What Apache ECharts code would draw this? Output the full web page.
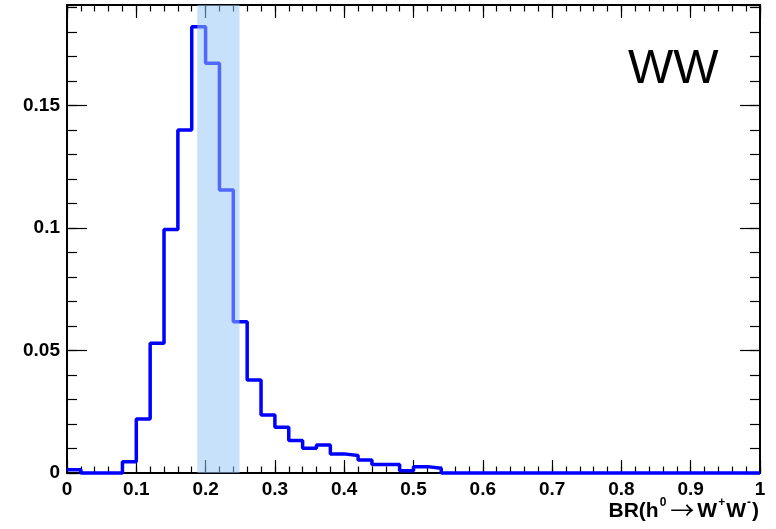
<!DOCTYPE html>
<html>
<head>
<meta charset="utf-8">
<script src="https://cdn.jsdelivr.net/npm/echarts@6/dist/echarts.min.js"></script>
<style>
html,body{margin:0;padding:0;background:#fff;}
#c{width:776px;height:529px;}
</style>
</head>
<body>
<div id="c"></div>
<script>
// Histogram: BR(h0 -> W+W-), 50 bins of width 0.02 from 0 to 1
var binLow = 0;
var binWidth = 0.02;
var binValues = [
  0.0013, 0, 0, 0, 0.0046, 0.0220, 0.0530, 0.0994, 0.1400, 0.1821,
  0.1672, 0.1155, 0.0617, 0.0380, 0.0237, 0.0187, 0.0133, 0.0101, 0.0114, 0.0078,
  0.0071, 0.0053, 0.0035, 0.0035, 0.0009, 0.0026, 0.0019, 0, 0, 0,
  0, 0, 0, 0, 0, 0, 0, 0, 0, 0,
  0, 0, 0, 0, 0, 0, 0, 0, 0, 0
];
var bandRange = [0.188, 0.249];
var xRange = [0, 1];
var yRange = [0, 0.191];
var xMajor = 0.1, xMinor = 0.02;
var yMajor = 0.05, yMinor = 0.01;
var panelLabel = 'WW';

var points = [];
for (var i = 0; i < binValues.length; i++) {
  points.push([+(binLow + i * binWidth).toFixed(4), binValues[i]]);
}
points.push([+(binLow + binValues.length * binWidth).toFixed(4), binValues[binValues.length - 1]]);

var FONT = '"Liberation Sans", Arial, Helvetica, sans-serif';
var labelStyle = {fontFamily: FONT, fontWeight: 'bold', fontSize: 19, color: '#000'};

function xAx(pos, interval, tickLen, showLabel, showLine) {
  return {
    type: 'value', position: pos, min: xRange[0], max: xRange[1], interval: interval,
    axisLine: {show: showLine, onZero: false, lineStyle: {color: '#000', width: 2}},
    axisTick: {show: true, inside: true, length: tickLen, lineStyle: {color: '#000', width: 1.2}},
    axisLabel: Object.assign({show: showLabel, margin: 7, formatter: function (v) { return String(+v.toFixed(2)); }}, labelStyle),
    splitLine: {show: false}
  };
}
function yAx(pos, interval, tickLen, showLabel, showLine) {
  return {
    type: 'value', position: pos, min: yRange[0], max: yRange[1], interval: interval,
    axisLine: {show: showLine, onZero: false, lineStyle: {color: '#000', width: 2}},
    axisTick: {show: true, inside: true, length: tickLen, lineStyle: {color: '#000', width: 1.2}},
    axisLabel: Object.assign({show: showLabel, margin: 7, showMaxLabel: false, formatter: function (v) { return String(+v.toFixed(3)); }}, labelStyle),
    splitLine: {show: false}
  };
}

var chart = echarts.init(document.getElementById('c'), null, {renderer: 'canvas'});
chart.setOption({
  backgroundColor: '#fff',
  animation: false,
  grid: {left: 67, right: 16, top: 5, bottom: 56, containLabel: false, outerBoundsMode: 'none'},
  xAxis: [
    xAx('bottom', xMajor, 13, true, true),
    xAx('bottom', xMinor, 6.5, false, false),
    xAx('top', xMajor, 13, false, true),
    xAx('top', xMinor, 6.5, false, false)
  ],
  yAxis: [
    yAx('left', yMajor, 20, true, true),
    yAx('left', yMinor, 10, false, false),
    yAx('right', yMajor, 20, false, true),
    yAx('right', yMinor, 10, false, false)
  ],
  series: [
    {
      type: 'line', name: 'hist', xAxisIndex: 0, yAxisIndex: 0,
      data: points, step: 'end', symbol: 'none', clip: false, z: 2,
      lineStyle: {color: '#0000ff', width: 3.5}
    },
    {
      type: 'line', name: 'band', xAxisIndex: 0, yAxisIndex: 0,
      data: [], z: 5, symbol: 'none',
      markArea: {
        silent: true, z: 5,
        itemStyle: {color: 'rgba(151,198,245,0.53)', borderWidth: 0},
        data: [[{xAxis: bandRange[0]}, {xAxis: bandRange[1]}]]
      }
    }
  ],
  graphic: [
    {
      type: 'text', left: 628, top: 46, z: 10,
      style: {text: panelLabel, fontFamily: FONT, fontSize: 48, fill: '#000'}
    },
    {
      type: 'text', right: 17, top: 496, z: 10,
      style: {
        text: '{b|BR(h}{s|0}{a|\u2192}{b|W}{s|+}{b|W}{s|-}{b|)}',
        fontFamily: FONT,
        rich: {
          b: {fontFamily: FONT, fontWeight: 'bold', fontSize: 21, fill: '#000', lineHeight: 26, verticalAlign: 'bottom'},
          s: {fontFamily: FONT, fontWeight: 'bold', fontSize: 12, fill: '#000', lineHeight: 26, verticalAlign: 'top', padding: [1, 1, 0, 1]},
          a: {fontFamily: '"Noto Sans CJK SC", "DejaVu Sans", sans-serif', fontWeight: 'normal', fontSize: 24, fill: '#000', lineHeight: 26, verticalAlign: 'bottom', padding: [0, 3, 0, 3]}
        }
      }
    }
  ]
});
</script>
</body>
</html>
